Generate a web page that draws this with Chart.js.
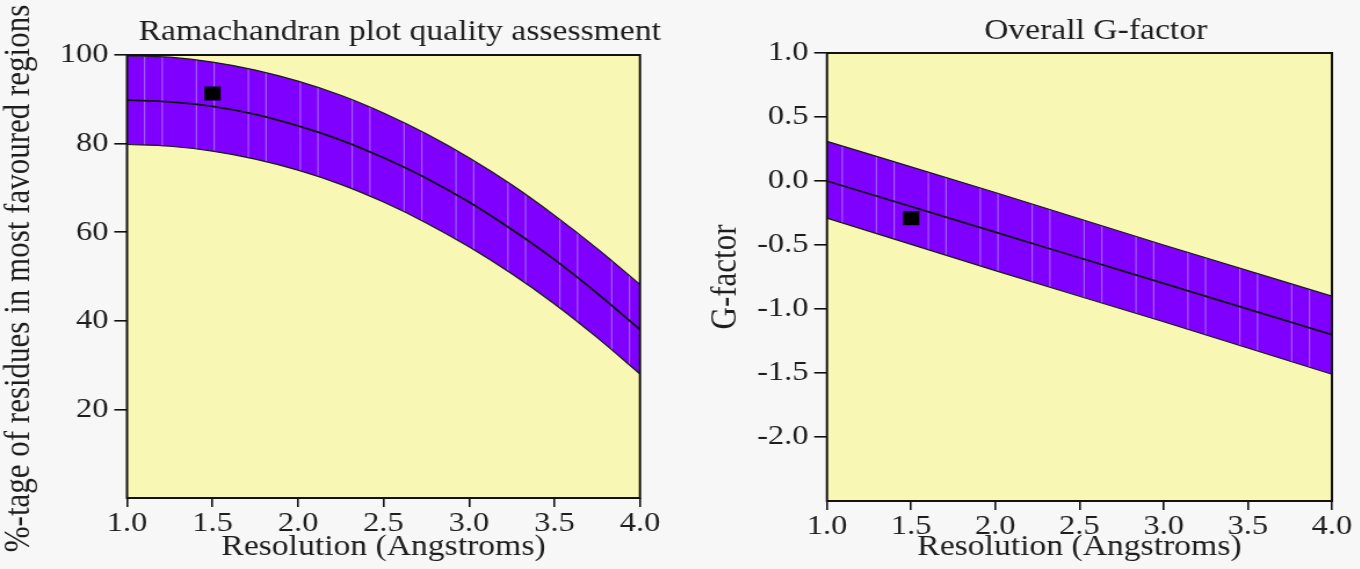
<!DOCTYPE html>
<html>
<head>
<meta charset="utf-8">
<script src="https://cdn.jsdelivr.net/npm/chart.js@4"></script>
<style>
  html, body { margin: 0; padding: 0; background: #f7f7f7; }
  body { width: 1360px; height: 569px; overflow: hidden; position: relative; }
  /* the source picture is stretched sideways, so the panels are too */
  .panel { position: absolute; top: 0; width: 586px; height: 569px; transform-origin: 0 0; transform: scaleX(1.16); }
  #left { left: 0; }
  #right { left: 680px; }
</style>
</head>
<body>
<div class="panel" id="left"><canvas id="rama" width="586" height="569"></canvas></div>
<div class="panel" id="right"><canvas id="gfac" width="586" height="569"></canvas></div>
<script>
// values
const resolution = [1.0, 1.25, 1.5, 1.75, 2.0, 2.25, 2.5, 2.75, 3.0, 3.25, 3.5, 3.75, 4.0];
const ramaMid   = [89.8, 89.4, 88.4, 86.6, 84.0, 80.8, 76.8, 72.2, 66.8, 60.6, 53.8, 46.2, 38.0];
const ramaUpper = [99.8, 99.5, 98.4, 96.6, 94.1, 90.9, 86.9, 82.2, 76.8, 70.7, 63.8, 56.3, 48.2];
const ramaLower = [79.8, 79.4, 78.3, 76.5, 74.0, 70.8, 66.8, 62.1, 56.7, 50.6, 43.8, 36.2, 28.0];

const gRes   = [1.0, 2.0, 3.0, 4.0];
const gMid   = [0.0, -0.40, -0.80, -1.20];
const gUpper = [0.31, -0.09, -0.50, -0.90];
const gLower = [-0.29, -0.70, -1.10, -1.51];

const scoreRes  = [1.5];
const ramaScore = [91.3];
const gScore    = [-0.29];

const xTicks    = [1.0, 1.5, 2.0, 2.5, 3.0, 3.5, 4.0];
const ramaTicks = [20, 40, 60, 80, 100];
const gTicks    = [1.0, 0.5, 0.0, -0.5, -1.0, -1.5, -2.0];

const FONT = "'Liberation Serif', 'DejaVu Serif', serif";
const TEXT = '#1e1e1e';
const YELLOW = '#f8f7b3';
const PURPLE = '#7f00ff';

function pts(xs, ys) {
  return xs.map((x, i) => ({ x: x, y: ys[i] }));
}

// purple band fill with the faint vertical hatching of the original
function bandPattern(ctx) {
  const tile = document.createElement('canvas');
  tile.width = 179;
  tile.height = 4;
  const c = tile.getContext('2d');
  c.fillStyle = PURPLE;
  c.fillRect(0, 0, tile.width, tile.height);
  c.fillStyle = 'rgba(190,150,255,0.6)';
  for (let k = 0; k < 4; k++) {
    [5, 34.5].forEach(off => c.fillRect(off + k * 44.75, 0, 1.2, tile.height));
  }
  return ctx.createPattern(tile, 'repeat');
}

const plotFrame = {
  id: 'plotFrame',
  beforeDraw(chart) {
    const { ctx, chartArea: a } = chart;
    ctx.save();
    ctx.fillStyle = YELLOW;
    ctx.fillRect(a.left, a.top, a.width, a.height);
    ctx.restore();
  },
  afterDatasetsDraw(chart) {
    const { ctx, chartArea: a } = chart;
    ctx.save();
    ctx.strokeStyle = '#111';
    ctx.lineWidth = 2;
    ctx.strokeRect(a.left, a.top, a.width, a.height);
    ctx.restore();
  },
  afterLayout(chart, args, opts) {
    // title sits a little right of the plot centre
    const tb = chart.titleBlock;
    const a = chart.chartArea;
    const c = (a.left + a.right) / 2 + (opts.titleShift || 0);
    const half = (tb.right - tb.left) / 2;
    tb.left = c - half;
    tb.right = c + half;
  }
};

// rotated y title, drawn by hand so it is not squeezed to the axis height
const yLabel = {
  id: 'yLabel',
  afterDraw(chart, args, opts) {
    const { ctx, chartArea: a } = chart;
    ctx.save();
    ctx.translate(opts.x, (a.top + a.bottom) / 2 + (opts.dy || 0));
    ctx.rotate(-Math.PI / 2);
    ctx.font = opts.size + 'px ' + FONT;
    ctx.fillStyle = TEXT;
    ctx.textAlign = 'center';
    ctx.textBaseline = 'middle';
    ctx.fillText(opts.text, 0, 0);
    ctx.restore();
  }
};

function makeChart(id, cfg) {
  const canvas = document.getElementById(id);
  const ctx = canvas.getContext('2d');
  const fill = bandPattern(ctx);
  return new Chart(ctx, {
    type: 'scatter',
    data: {
      datasets: [
        {
          data: cfg.lower, showLine: true, pointRadius: 0,
          borderColor: '#1a1a1a', borderWidth: 1.2, fill: false,
          cubicInterpolationMode: 'monotone'
        },
        {
          data: cfg.upper, showLine: true, pointRadius: 0,
          borderColor: '#1a1a1a', borderWidth: 1.2, fill: '-1', backgroundColor: fill,
          cubicInterpolationMode: 'monotone'
        },
        {
          data: cfg.mid, showLine: true, pointRadius: 0,
          borderColor: '#111', borderWidth: 1.8, fill: false,
          cubicInterpolationMode: 'monotone'
        },
        {
          data: cfg.score, pointStyle: 'rect', pointRadius: 10,
          backgroundColor: '#000', borderColor: '#000', borderWidth: 0
        }
      ]
    },
    options: {
      responsive: false,
      animation: false,
      layout: { padding: { left: 0, right: cfg.padRight, top: 0, bottom: 4 } },
      plugins: {
        legend: { display: false },
        tooltip: { enabled: false },
        filler: { drawTime: 'beforeDatasetsDraw' },
        title: {
          display: true, text: cfg.title, color: TEXT,
          font: { family: FONT, size: 29, weight: 'normal', lineHeight: 1.2 },
          padding: { top: cfg.titleTop, bottom: cfg.plotTop - cfg.titleTop - 34.8 }
        },
        plotFrame: { titleShift: 14 },
        yLabel: { text: cfg.yTitle, x: cfg.yTitleX, size: 31, dy: cfg.yTitleDy }
      },
      scales: {
        x: {
          type: 'linear', min: 1, max: 4,
          afterBuildTicks: s => { s.ticks = xTicks.map(v => ({ value: v })); },
          afterFit: s => { s.height = 565 - cfg.plotBottom; },
          border: { display: false },
          grid: { drawOnChartArea: false, drawTicks: true, tickLength: 9, color: '#111', lineWidth: 1.6 },
          ticks: {
            color: TEXT, padding: 0, autoSkip: false, maxRotation: 0,
            font: { family: FONT, size: 28 },
            callback: v => v.toFixed(1)
          },
          title: {
            display: true, text: 'Resolution (Angstroms)', color: TEXT,
            font: { family: FONT, size: 29, lineHeight: 1.2 },
            padding: { top: 0, bottom: 0 }
          }
        },
        y: {
          type: 'linear', min: cfg.yMin, max: cfg.yMax,
          afterBuildTicks: s => { s.ticks = cfg.yTicks.map(v => ({ value: v })); },
          afterFit: s => { s.width = cfg.plotLeft; },
          border: { display: false },
          grid: { drawOnChartArea: false, drawTicks: true, tickLength: 11, color: '#111', lineWidth: 1.6 },
          ticks: {
            color: TEXT, padding: 5, autoSkip: false,
            font: { family: FONT, size: 28 },
            callback: cfg.yFormat
          }
        }
      }
    },
    plugins: [plotFrame, yLabel]
  });
}

makeChart('rama', {
  title: 'Ramachandran plot quality assessment',
  yTitle: '%-tage of residues in most favoured regions',
  lower: pts(resolution, ramaLower),
  upper: pts(resolution, ramaUpper),
  mid: pts(resolution, ramaMid),
  score: pts(scoreRes, ramaScore),
  yMin: 0, yMax: 100, yTicks: ramaTicks,
  yFormat: v => String(v),
  plotLeft: 109.5, padRight: 34.3, plotTop: 55, plotBottom: 498, titleTop: 14.8,
  yTitleX: 16.4, yTitleDy: 2
});

makeChart('gfac', {
  title: 'Overall G-factor',
  yTitle: 'G-factor',
  lower: pts(gRes, gLower),
  upper: pts(gRes, gUpper),
  mid: pts(gRes, gMid),
  score: pts(scoreRes, gScore),
  yMin: -2.5, yMax: 1.0, yTicks: gTicks,
  yFormat: v => v.toFixed(1),
  plotLeft: 126.7, padRight: 24, plotTop: 53, plotBottom: 501, titleTop: 13.6,
  yTitleX: 40.2, yTitleDy: 0
});
</script>
</body>
</html>
